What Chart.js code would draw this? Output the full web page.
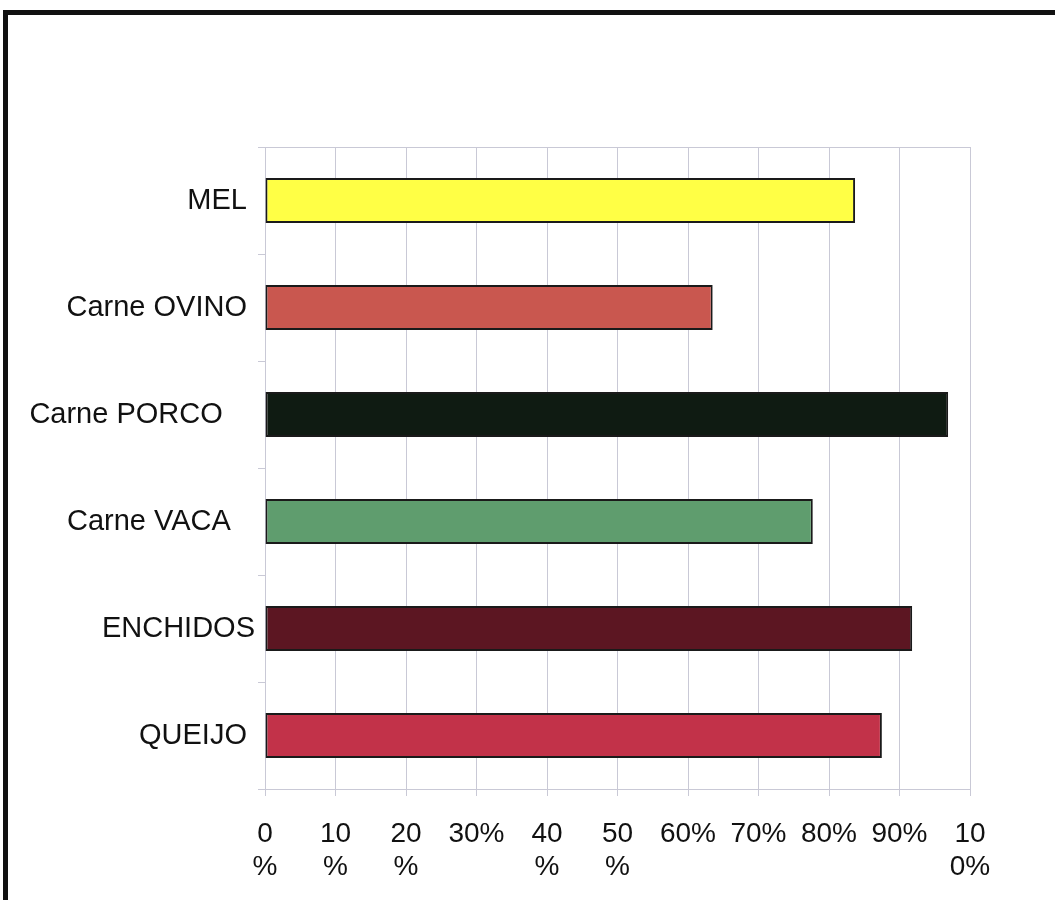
<!DOCTYPE html>
<html>
<head>
<meta charset="utf-8">
<script src="https://cdn.jsdelivr.net/npm/chart.js@4.4.0/dist/chart.umd.min.js"></script>
<style>
  html, body { margin: 0; padding: 0; background: #fff; }
  #frame {
    position: absolute; left: 3px; top: 10px; width: 1200px; height: 1000px;
    border-left: 5px solid #111; border-top: 5px solid #111;
  }
  #wrap { position: absolute; left: 0; top: 0; width: 1055px; height: 900px; }
</style>
</head>
<body>
<div id="frame"></div>
<div id="wrap"><canvas id="grafico" width="1055" height="900"></canvas></div>
<script>
// Categorias (eixo vertical), de cima para baixo
const categorias = ['MEL ', 'Carne OVINO ', 'Carne PORCO    ', 'Carne VACA   ', 'ENCHIDOS', 'QUEIJO '];
// Percentagem por produto
const valores = [83.7, 63.5, 96.9, 77.7, 91.8, 87.5];
const cores = ['#FFFF45', '#C9574F', '#0F1B12', '#5F9D6E', '#5C1622', '#C23249'];
// Rotulos do eixo horizontal, tal como aparecem (quebrados em linhas)
const rotulosX = [['0', '%'], ['10', '%'], ['20', '%'], '30%', ['40', '%'], ['50', '%'],
                  '60%', '70%', '80%', '90%', ['10', '0%']];

const corGrelha = '#c9c9d6';
const fonte = '"Liberation Sans", Arial, sans-serif';

// Linha superior da area do grafico
const bordaTopo = {
    id: 'bordaTopo',
    beforeDatasetsDraw(chart) {
        const { ctx, chartArea } = chart;
        ctx.save();
        ctx.strokeStyle = corGrelha;
        ctx.lineWidth = 1;
        ctx.beginPath();
        ctx.moveTo(chartArea.left - 7, chartArea.top + 0.5);
        ctx.lineTo(chartArea.right, chartArea.top + 0.5);
        ctx.stroke();
        ctx.restore();
    }
};

new Chart(document.getElementById('grafico'), {
    type: 'bar',
    data: {
        labels: categorias,
        datasets: [{
            data: valores,
            backgroundColor: cores,
            borderColor: '#1a1a1a',
            borderWidth: 2,
            borderSkipped: false,
            categoryPercentage: 1,
            barPercentage: 0.42
        }]
    },
    options: {
        indexAxis: 'y',
        responsive: false,
        animation: false,
        layout: { padding: { top: 147, right: 85, left: 0, bottom: 0 } },
        plugins: { legend: { display: false }, tooltip: { enabled: false } },
        scales: {
            x: {
                min: 0,
                max: 100,
                ticks: {
                    stepSize: 10,
                    color: '#111',
                    padding: 21,
                    maxRotation: 0,
                    autoSkip: false,
                    font: { family: fonte, size: 28, lineHeight: 1.2 },
                    callback: (v, i) => rotulosX[i]
                },
                grid: { color: corGrelha, tickLength: 7 },
                border: { color: corGrelha },
                afterFit: (s) => { s.height = 111; }
            },
            y: {
                ticks: {
                    color: '#111',
                    padding: 3,
                    font: { family: fonte, size: 29 }
                },
                grid: { color: corGrelha, drawOnChartArea: false, tickLength: 7, offset: true },
                border: { color: corGrelha },
                afterFit: (s) => { s.width = 265; }
            }
        }
    },
    plugins: [bordaTopo]
});
</script>
</body>
</html>
